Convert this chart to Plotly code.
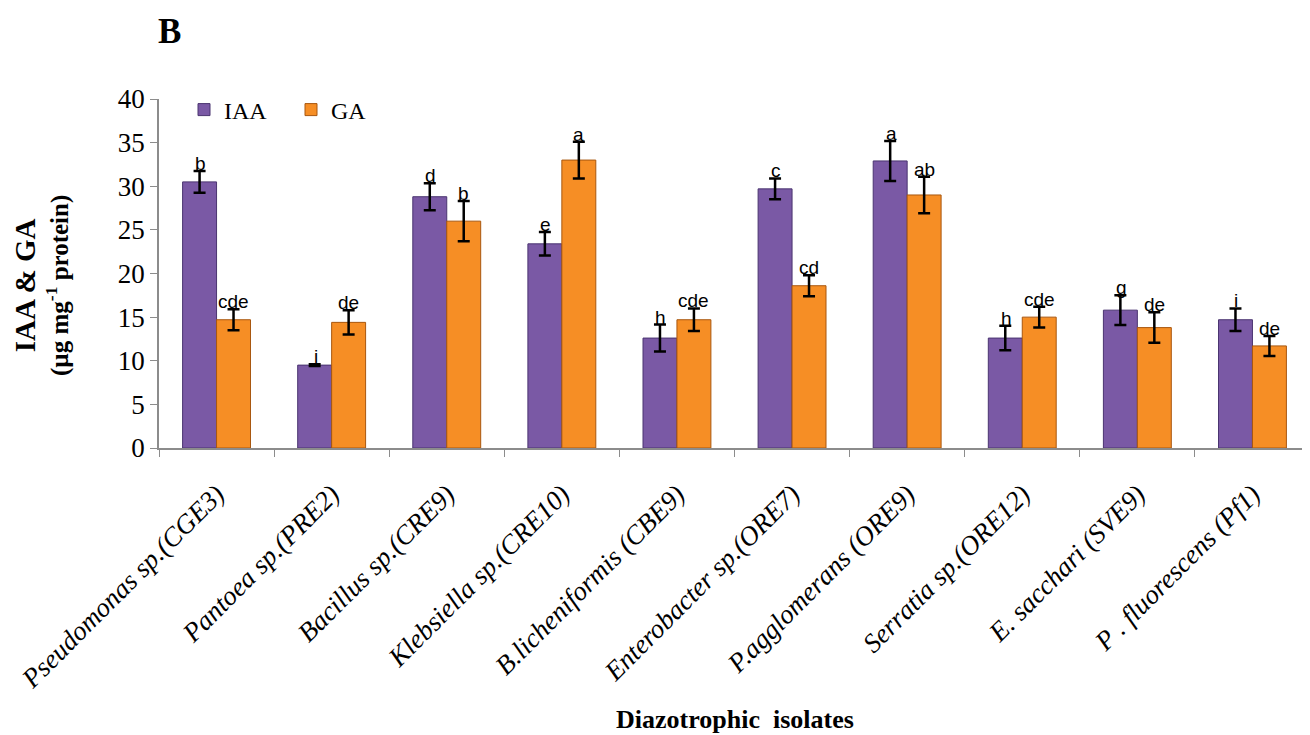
import plotly.graph_objects as go

categories = ["Pseudomonas sp.(CGE3)", "Pantoea sp.(PRE2)", "Bacillus sp.(CRE9)",
              "Klebsiella sp.(CRE10)", "B.licheniformis (CBE9)", "Enterobacter sp.(ORE7)",
              "P.agglomerans (ORE9)", "Serratia sp.(ORE12)", "E. sacchari (SVE9)",
              "P . fluorescens (Pf1)"]
iaa = [30.5, 9.5, 28.8, 23.4, 12.6, 29.7, 32.9, 12.6, 15.8, 14.7]
iaa_err = [1.25, 0.1, 1.55, 1.35, 1.55, 1.2, 2.3, 1.4, 1.7, 1.3]
ga = [14.7, 14.4, 26.0, 33.0, 14.7, 18.6, 29.0, 15.0, 13.8, 11.7]
ga_err = [1.2, 1.4, 2.3, 2.1, 1.3, 1.2, 2.1, 1.2, 1.75, 1.15]
iaa_letters = ["b", "i", "d", "e", "h", "c", "a", "h", "g", "i"]
ga_letters = ["cde", "de", "b", "a", "cde", "cd", "ab", "cde", "de", "de"]

serif = "Liberation Serif, Times New Roman, serif"
sans = "Liberation Sans, Arial, sans-serif"

W, H = 1302, 727
L, R, T, B = 151, 0, 91, 287
pw = W - L - R
ph = H - T - B

def px(xpage):
    return (xpage - 8 - L) / pw

def py(ypage):
    return ((H - B) - (ypage - 8)) / ph

fig = go.Figure()
fig.add_trace(go.Bar(
    name="IAA", x=categories, y=iaa,
    marker=dict(color="#7A59A5", line=dict(color="#4A3470", width=1)),
    error_y=dict(type="data", array=iaa_err, color="black", thickness=2.5, width=6),
))
fig.add_trace(go.Bar(
    name="GA", x=categories, y=ga,
    marker=dict(color="#F68E25", line=dict(color="#A8570F", width=1)),
    error_y=dict(type="data", array=ga_err, color="black", thickness=2.5, width=6),
))

annotations = []
for i, c in enumerate(categories):
    annotations.append(dict(x=c, y=iaa[i] + iaa_err[i], text=iaa_letters[i], xref="x", yref="y",
                            showarrow=False, xshift=-16, yanchor="bottom", yshift=-5,
                            font=dict(family=sans, size=19, color="black")))
    annotations.append(dict(x=c, y=ga[i] + ga_err[i], text=ga_letters[i], xref="x", yref="y",
                            showarrow=False, xshift=17, yanchor="bottom", yshift=-5,
                            font=dict(family=sans, size=19, color="black")))

annotations.append(dict(x=px(169), y=py(32), xref="paper", yref="paper", text="<b>B</b>",
                        showarrow=False, xanchor="center", yanchor="middle",
                        font=dict(family=serif, size=35, color="black")))
annotations.append(dict(x=px(41), y=py(286), xref="paper", yref="paper",
                        text="<span style='font-size:29px'><b>IAA & GA</b></span><br>"
                             "<b>(µg mg<sup>-1</sup> protein)</b>",
                        showarrow=False, textangle=-90, xanchor="center", yanchor="middle",
                        font=dict(family=serif, size=25, color="black")))
annotations.append(dict(x=px(735), y=py(719), xref="paper", yref="paper",
                        text="<b>Diazotrophic  isolates</b>",
                        showarrow=False, xanchor="center", yanchor="middle",
                        font=dict(family=serif, size=26, color="black")))

fig.update_layout(
    annotations=annotations,
    width=W, height=H,
    margin=dict(l=L, r=R, t=T, b=B),
    paper_bgcolor="white", plot_bgcolor="white",
    barmode="group", bargap=0.41, bargroupgap=0,
    showlegend=True,
    legend=dict(orientation="h", x=px(184), y=py(110), xanchor="left", yanchor="middle",
                font=dict(family=serif, size=24, color="black"),
                bgcolor="rgba(0,0,0,0)", itemwidth=30, entrywidth=62),
    xaxis=dict(
        showline=True, linecolor="#8c8c8c", linewidth=1.5,
        ticks="outside", tickson="boundaries", ticklen=7, tickcolor="#8c8c8c",
        tickangle=-45, ticklabelstandoff=18,
        tickfont=dict(family=serif, size=27, color="black", style="italic"),
        showgrid=False,
    ),
    yaxis=dict(
        range=[0, 40], dtick=5,
        showline=True, linecolor="#8c8c8c", linewidth=1.5,
        ticks="outside", ticklen=7, tickcolor="#8c8c8c",
        tickfont=dict(family=serif, size=27, color="black"),
        showgrid=False, zeroline=False,
    ),
)

fig.write_html("out.html")
